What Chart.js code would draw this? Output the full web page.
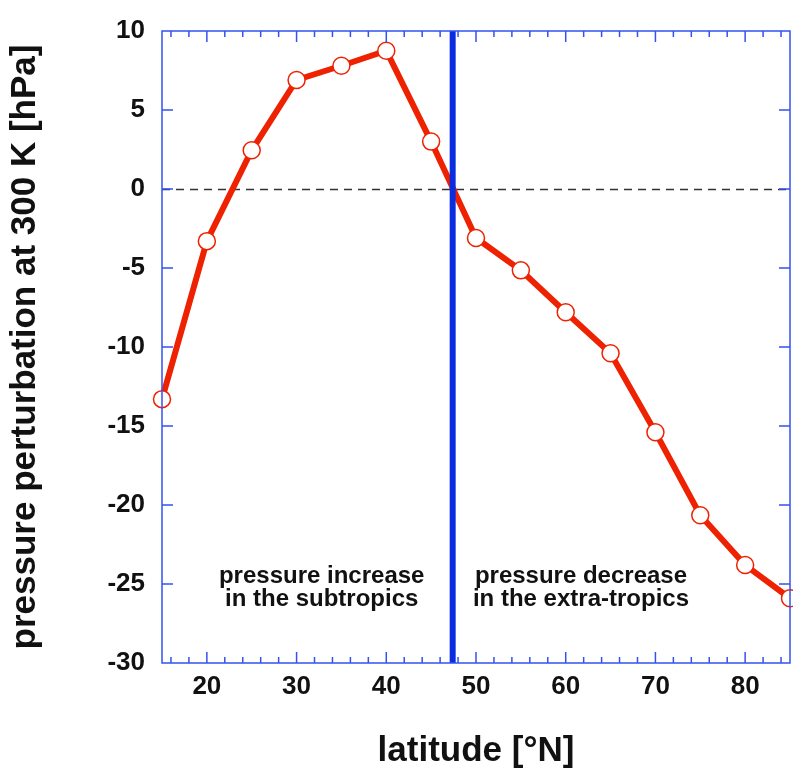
<!DOCTYPE html>
<html>
<head>
<meta charset="utf-8">
<script src="https://cdn.jsdelivr.net/npm/chart.js@4/dist/chart.umd.min.js"></script>
<style>
  html, body { margin: 0; padding: 0; background: #fff; }
  canvas { display: block; }
</style>
</head>
<body>
<canvas id="c" width="793" height="771"></canvas>
<script>
// Latitude (°N) of each sample and the pressure perturbation at 300 K (hPa)
const latitudes = [15, 20, 25, 30, 35, 40, 45, 50, 55, 60, 65, 70, 75, 80, 85];
const perturbation = [-13.3, -3.3, 2.45, 6.9, 7.8, 8.75, 3.0, -3.1, -5.15, -7.8, -10.4, -15.4, -20.65, -23.8, -25.9];

// Axis ranges and labelled ticks
const xRange = [15, 85];
const yRange = [-30, 10];
const xTickLabels = [20, 30, 40, 50, 60, 70, 80];
const yStep = 5;

// Latitude where the perturbation changes sign
const dividerLatitude = 47.4;

// Region labels: [latitude of text centre, value of each line, lines]
const regionNotes = [
  { lat: 32.8, values: [-24.5, -25.95], lines: ['pressure increase', 'in the subtropics'] },
  { lat: 61.7, values: [-24.5, -25.95], lines: ['pressure decrease', 'in the extra-tropics'] }
];

const FONT = 'Arial, "Liberation Sans", Helvetica, sans-serif';
const FRAME_BLUE = '#3452f0';

const decorations = {
  id: 'decorations',
  beforeDatasetsDraw(chart) {
    const { ctx, chartArea: a, scales: { y } } = chart;
    const y0 = Math.round(y.getPixelForValue(0)) + 0.5;
    ctx.save();
    ctx.strokeStyle = '#333';
    ctx.lineWidth = 1.5;
    ctx.setLineDash([8, 6]);
    ctx.beginPath();
    ctx.moveTo(a.left, y0);
    ctx.lineTo(a.right, y0);
    ctx.stroke();
    ctx.restore();
  },
  afterDatasetsDraw(chart) {
    const { ctx, chartArea: a, scales: { x, y } } = chart;
    ctx.save();
    // sign-change divider
    const xd = x.getPixelForValue(dividerLatitude);
    ctx.strokeStyle = '#0a2de0';
    ctx.lineWidth = 6;
    ctx.beginPath();
    ctx.moveTo(xd, a.top);
    ctx.lineTo(xd, a.bottom);
    ctx.stroke();

    // frame and inward ticks
    ctx.strokeStyle = FRAME_BLUE;
    ctx.lineWidth = 1.5;
    ctx.strokeRect(a.left, a.top, a.right - a.left, a.bottom - a.top);
    ctx.beginPath();
    for (let v = xRange[0] + 1; v < xRange[1]; v += 2) {
      const px = x.getPixelForValue(v);
      const len = (v % 10 === 0) ? 11 : 6;
      ctx.moveTo(px, a.bottom); ctx.lineTo(px, a.bottom - len);
      ctx.moveTo(px, a.top); ctx.lineTo(px, a.top + len);
    }
    for (let v = yRange[0] + yStep; v < yRange[1]; v += yStep) {
      const py = y.getPixelForValue(v);
      ctx.moveTo(a.left, py); ctx.lineTo(a.left + 11, py);
      ctx.moveTo(a.right, py); ctx.lineTo(a.right - 11, py);
    }
    ctx.stroke();

    // region labels
    ctx.fillStyle = '#111';
    ctx.font = 'bold 24px ' + FONT;
    ctx.textAlign = 'center';
    ctx.textBaseline = 'middle';
    regionNotes.forEach(n => {
      const px = x.getPixelForValue(n.lat);
      n.lines.forEach((t, i) => ctx.fillText(t, px, y.getPixelForValue(n.values[i])));
    });
    ctx.restore();
  }
};

new Chart(document.getElementById('c'), {
  type: 'line',
  data: {
    datasets: [{
      data: latitudes.map((lat, i) => ({ x: lat, y: perturbation[i] })),
      borderColor: '#ee2200',
      borderWidth: 6,
      pointRadius: 8.5,
      pointBorderWidth: 1.5,
      pointBackgroundColor: '#ffffff',
      pointBorderColor: '#ee2200',
      tension: 0,
      clip: false
    }]
  },
  options: {
    responsive: false,
    animation: false,
    devicePixelRatio: 1,
    layout: { autoPadding: false, padding: { top: 31, right: 3, left: 0, bottom: 0 } },
    plugins: { legend: { display: false }, tooltip: { enabled: false } },
    scales: {
      x: {
        type: 'linear',
        min: xRange[0],
        max: xRange[1],
        grid: { display: false, drawTicks: false },
        border: { display: false },
        afterBuildTicks: s => { s.ticks = xTickLabels.map(v => ({ value: v })); },
        afterFit: s => { s.height = 108; s.paddingLeft = 0; s.paddingRight = 0; },
        ticks: {
          padding: 8,
          color: '#111',
          font: { family: FONT, size: 26, weight: 'bold' },
          maxRotation: 0
        },
        title: {
          display: true,
          text: 'latitude [°N]',
          color: '#111',
          font: { family: FONT, size: 35, weight: 'bold', lineHeight: 1.0 },
          padding: { top: 0, bottom: 2 }
        }
      },
      y: {
        min: yRange[0],
        max: yRange[1],
        grid: { display: false, drawTicks: false },
        border: { display: false },
        afterFit: s => { s.width = 162; s.paddingTop = 0; s.paddingBottom = 0; },
        ticks: {
          stepSize: yStep,
          padding: 17,
          color: '#111',
          font: { family: FONT, size: 26, weight: 'bold' }
        },
        title: {
          display: true,
          text: 'pressure perturbation at 300 K [hPa]',
          color: '#111',
          font: { family: FONT, size: 35, weight: 'bold', lineHeight: 1.0 },
          padding: { top: 8, bottom: 0 }
        }
      }
    }
  },
  plugins: [decorations]
});
</script>
</body>
</html>
